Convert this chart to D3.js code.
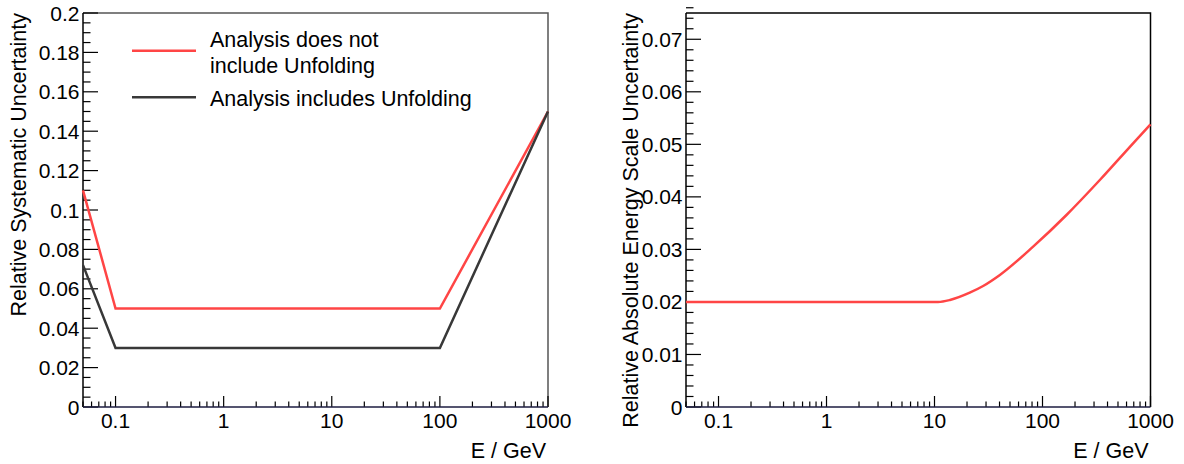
<!DOCTYPE html>
<html><head><meta charset="utf-8">
<script src="https://cdn.jsdelivr.net/npm/d3@7"></script>
<style>
html,body{margin:0;padding:0;background:#fff;}
svg text{font-family:"Liberation Sans",Arial,sans-serif;fill:#000;}
</style></head>
<body><svg id="c" width="1184" height="464"></svg>
<script>
// ---- data ----
const energyDomain = [0.05, 1000];
const leftYDomain = [0, 0.2];
const rightYDomain = [0, 0.075];
const xTickLabels = [0.1, 1, 10, 100, 1000];
const leftYTickLabels = [0, 0.02, 0.04, 0.06, 0.08, 0.1, 0.12, 0.14, 0.16, 0.18, 0.2];
const rightYTickLabels = [0, 0.01, 0.02, 0.03, 0.04, 0.05, 0.06, 0.07];

const noUnfoldE = [0.05, 0.1, 100, 1000];
const noUnfoldU = [0.110, 0.05, 0.05, 0.15];
const unfoldE = [0.05, 0.1, 100, 1000];
const unfoldU = [0.072, 0.03, 0.03, 0.15];

const scaleE = [0.05, 1, 10.8, 13.9, 21.2, 28.2, 40.3, 81.9, 166.7, 339.5, 690, 1000];
const scaleU = [0.02, 0.02, 0.02, 0.02037, 0.02176, 0.02303, 0.02513, 0.03052, 0.03655, 0.04321, 0.0502, 0.0538];

const legendLabels = [["Analysis does not", "include Unfolding"], ["Analysis includes Unfolding"]];
const leftYTitle = "Relative Systematic Uncertainty";
const rightYTitle = "Relative Absolute Energy Scale Uncertainty";
const xTitle = "E / GeV";

const RED = "#ff4545", DARK = "#383838";
const svg = d3.select("#c");
const FS = 21, TFS = 21.5;

function panel(x0, x1, y0, y1, yDomain, yMajor, yMinorStep, frameCol, yTitle, titleX) {
  const x = d3.scaleLog().domain(energyDomain).range([x0, x1]);
  const y = d3.scaleLinear().domain(yDomain).range([y1, y0]);
  const g = svg.append("g");
  g.append("path").attr("d", `M${x0},${y0}H${x1}V${y1}`).attr("fill","none").attr("stroke",frameCol).attr("stroke-width",1.5);
  const ticks = [];
  for (let d = -2; d <= 3; d++) for (let m = 1; m <= 9; m++) {
    const v = m * Math.pow(10, d);
    if (v >= energyDomain[0] - 1e-9 && v <= energyDomain[1] + 1e-9) ticks.push({v, major: m === 1});
  }
  g.selectAll(".xt").data(ticks).enter().append("line")
    .attr("x1", d => x(d.v)).attr("x2", d => x(d.v))
    .attr("y1", y1).attr("y2", d => y1 - (d.major ? 11 : 5.5))
    .attr("stroke", "#000").attr("stroke-width", 1.2);
  g.selectAll(".xl").data(xTickLabels).enter().append("text")
    .attr("x", d => x(d)).attr("y", y1 + 21).attr("text-anchor", "middle")
    .attr("font-size", FS).text(d => d3.format("~g")(d));
  const nMin = Math.round((yDomain[1] - yDomain[0]) / yMinorStep);
  const yt = d3.range(nMin + 1).map(i => yDomain[0] + i * yMinorStep);
  g.selectAll(".yt").data(yt).enter().append("line")
    .attr("x1", x0).attr("x2", d => x0 + (yMajor.some(m => Math.abs(m - d) < 1e-9) ? 15 : 7.5))
    .attr("y1", d => y(d)).attr("y2", d => y(d))
    .attr("stroke", "#000").attr("stroke-width", 1.2);
  g.selectAll(".yl").data(yMajor).enter().append("text")
    .attr("x", x0 - 3.5).attr("y", d => y(d)).attr("dy", "0.36em").attr("text-anchor", "end")
    .attr("font-size", FS).text(d => d3.format("~g")(d));
  g.append("line").attr("x1", x0).attr("x2", x0).attr("y1", y0).attr("y2", y1).attr("stroke", "#000").attr("stroke-width", 1.5);
  g.append("line").attr("x1", x0).attr("x2", x1).attr("y1", y1).attr("y2", y1).attr("stroke", "#1c1c40").attr("stroke-width", 1.5);
  g.append("text").attr("x", x1 - 2).attr("y", 458).attr("text-anchor", "end").attr("font-size", TFS).text(xTitle);
  g.append("text").attr("transform", `translate(${titleX},${y0}) rotate(-90)`)
    .attr("text-anchor", "end").attr("dy", "0.35em").attr("font-size", TFS).text(yTitle);
  return {x, y, g};
}

const L = panel(83, 548, 13, 407, leftYDomain, leftYTickLabels, 0.005, "#555", leftYTitle, 18);
const R = panel(686, 1150.5, 13, 407, rightYDomain, rightYTickLabels, 0.002, "#000", rightYTitle, 630);

function drawLine(P, E, U, col, curve) {
  const pts = E.map((e, i) => [e, U[i]]);
  const line = d3.line().x(d => P.x(d[0])).y(d => P.y(d[1])).curve(curve || d3.curveLinear);
  P.g.append("path").datum(pts).attr("d", line).attr("fill", "none")
    .attr("stroke", col).attr("stroke-width", 2.5).attr("stroke-linejoin", "miter");
}
drawLine(L, noUnfoldE, noUnfoldU, RED);
drawLine(L, unfoldE, unfoldU, DARK);
drawLine(R, scaleE, scaleU, RED, d3.curveMonotoneX);

const leg = L.g.append("g");
[[RED, 50.7], [DARK, 97.3]].forEach(([c, yy]) => {
  leg.append("line").attr("x1", 132).attr("x2", 196).attr("y1", yy).attr("y2", yy).attr("stroke", c).attr("stroke-width", 2.5);
});
leg.append("text").attr("x", 210).attr("y", 46.5).attr("font-size", TFS).text(legendLabels[0][0]);
leg.append("text").attr("x", 210).attr("y", 73).attr("font-size", TFS).text(legendLabels[0][1]);
leg.append("text").attr("x", 210).attr("y", 106).attr("font-size", TFS).text(legendLabels[1][0]);
</script></body></html>
